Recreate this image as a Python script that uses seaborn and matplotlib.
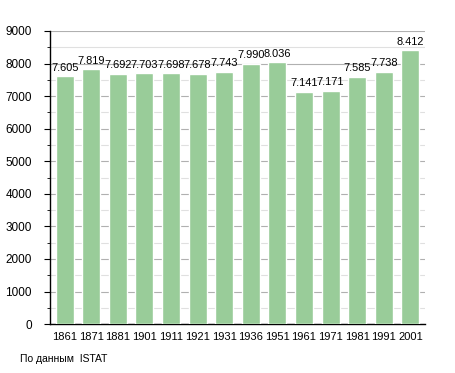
import matplotlib
matplotlib.use("Agg")
import matplotlib.pyplot as plt
import pandas as pd
import seaborn as sns
from matplotlib.ticker import MultipleLocator

years = ["1861", "1871", "1881", "1901", "1911", "1921", "1931",
         "1936", "1951", "1961", "1971", "1981", "1991", "2001"]
population = [7605, 7819, 7692, 7703, 7698, 7678, 7743,
              7990, 8036, 7141, 7171, 7585, 7738, 8412]
bar_labels = ["7.605", "7.819", "7.692", "7.703", "7.698", "7.678", "7.743",
              "7.990", "8.036", "7.141", "7.171", "7.585", "7.738", "8.412"]

df = pd.DataFrame({"year": years, "value": population})

sns.set_style("white")
plt.rcParams["font.family"] = ["Liberation Sans", "DejaVu Sans"]
plt.rcParams["text.color"] = "black"
plt.rcParams["xtick.color"] = "black"
plt.rcParams["ytick.color"] = "black"

fig = plt.figure(figsize=(4.55, 3.73), dpi=100)
ax = fig.add_axes([0.110, 0.131, 0.824, 0.786])

sns.barplot(data=df, x="year", y="value", color="#99cc99", width=0.68,
            saturation=1, errorbar=None, ax=ax, zorder=3)

ax.set_ylim(0, 9000)
ax.set_xlim(-0.55, len(years) - 0.45)
ax.yaxis.set_major_locator(MultipleLocator(1000))
ax.yaxis.set_minor_locator(MultipleLocator(500))
ax.grid(axis="y", which="major", color="#b0b0b0", linewidth=0.8, zorder=0)
ax.grid(axis="y", which="minor", color="#e0e0e0", linewidth=0.8, zorder=0)
ax.set_axisbelow(True)

for s in ["top", "right"]:
    ax.spines[s].set_visible(False)
for s in ["left", "bottom"]:
    ax.spines[s].set_color("black")
    ax.spines[s].set_linewidth(1.0)

ax.tick_params(axis="y", which="major", left=True, length=4, labelsize=8.5, pad=9)
ax.tick_params(axis="y", which="minor", left=True, length=2)
ax.tick_params(axis="x", bottom=False, labelsize=8, pad=2)
ax.set_xlabel("")
ax.set_ylabel("")

for i, (v, lab) in enumerate(zip(population, bar_labels)):
    ax.text(i, v + 110, lab, ha="center", va="bottom", fontsize=7.9, zorder=5)

fig.text(0.045, 0.03, "По данным  ISTAT", fontsize=7.5)

fig.savefig("out.png", dpi=100)
